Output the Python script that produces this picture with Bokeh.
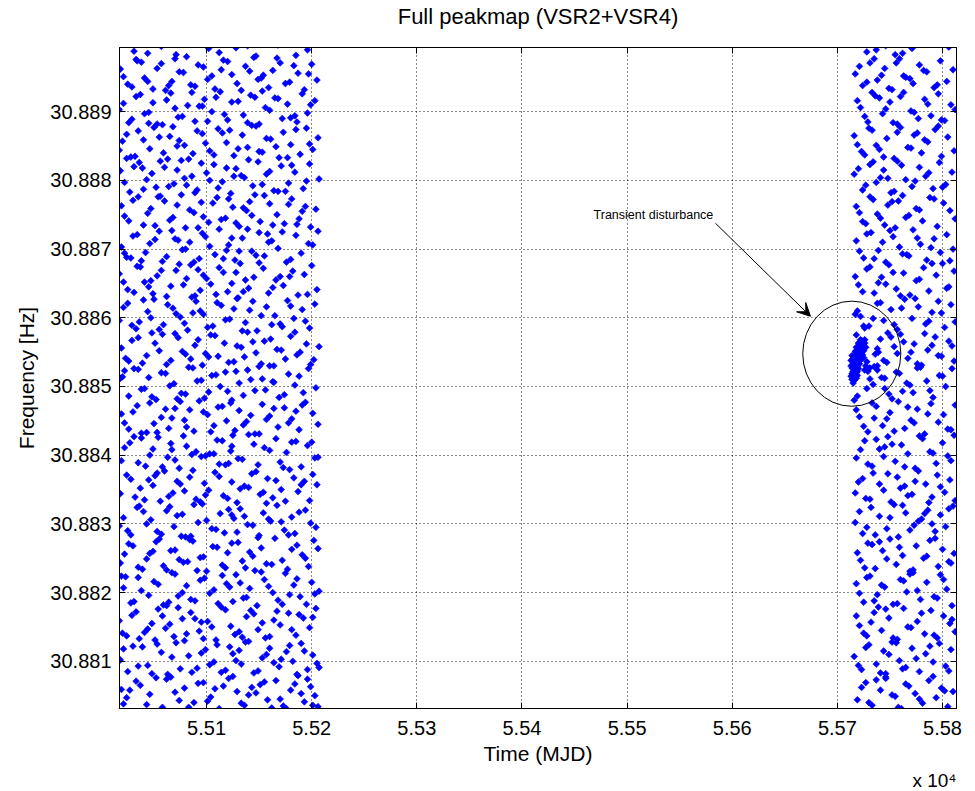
from bokeh.plotting import figure
from bokeh.models import (FixedTicker, LinearAxis, Label, Arrow, VeeHead,
                          Range1d, ColumnDataSource, Title)
from bokeh.embed import file_html
from bokeh.resources import INLINE

# ---------------- data ----------------
TITLE = "Full peakmap (VSR2+VSR4)"
X_LABEL = "Time (MJD)"
Y_LABEL = "Frequency [Hz]"
X_EXPONENT = "x 10\u2074"

X_TICKS = [55100, 55200, 55300, 55400, 55500, 55600, 55700, 55800]
X_TICK_LABELS = ["5.51", "5.52", "5.53", "5.54", "5.55", "5.56", "5.57", "5.58"]
Y_TICKS = [30.881, 30.882, 30.883, 30.884, 30.885, 30.886, 30.887, 30.888, 30.889]
Y_TICK_LABELS = ["30.881", "30.882", "30.883", "30.884", "30.885",
                 "30.886", "30.887", "30.888", "30.889"]

# VSR2 peaks (left block): time in MJD, one line per frequency strip
LEFT_T = [
    55021, 55033, 55046, 55058, 55066, 55079, 55088, 55097, 55104, 55112, 55121, 55129, 55136, 55143, 55147, 55151, 55158, 55166, 55173, 55180, 55187, 55193, 55199, 55203, 55206, 55027, 55052, 55074, 55116, 55162,
    55018, 55025, 55039, 55044, 55057, 55063, 55071, 55083, 55091, 55099, 55107, 55110, 55118, 55125, 55133, 55140, 55145, 55153, 55160, 55169, 55176, 55182, 55190, 55196, 55201, 55205, 55030, 55086, 55131, 55171,
    55020, 55029, 55036, 55048, 55054, 55061, 55069, 55077, 55085, 55093, 55101, 55109, 55114, 55123, 55127, 55138, 55142, 55149, 55156, 55164, 55170, 55178, 55185, 55192, 55198, 55204, 55041, 55095, 55134, 55188,
    55019, 55031, 55038, 55050, 55059, 55067, 55073, 55081, 55089, 55098, 55103, 55111, 55119, 55128, 55135, 55141, 55148, 55155, 55163, 55168, 55175, 55183, 55189, 55195, 55200, 55207, 55023, 55064, 55122, 55179,
    55022, 55026, 55035, 55043, 55055, 55062, 55070, 55078, 55087, 55094, 55100, 55106, 55115, 55120, 55130, 55137, 55144, 55152, 55157, 55165, 55172, 55177, 55186, 55191, 55197, 55202, 55049, 55082, 55146, 55206,
    55017, 55028, 55040, 55047, 55053, 55065, 55072, 55080, 55092, 55096, 55105, 55113, 55117, 55126, 55132, 55139, 55150, 55154, 55161, 55167, 55174, 55181, 55184, 55194, 55199, 55204, 55034, 55076, 55124, 55159,
    55024, 55032, 55037, 55045, 55056, 55060, 55068, 55075, 55084, 55090, 55102, 55108, 55116, 55124, 55129, 55136, 55143, 55151, 55158, 55163, 55171, 55179, 55187, 55193, 55198, 55205, 55051, 55099, 55140, 55183,
    55019, 55027, 55042, 55049, 55054, 55063, 55074, 55081, 55086, 55095, 55103, 55110, 55121, 55123, 55125, 55134, 55145, 55149, 55155, 55166, 55170, 55176, 55185, 55190, 55196, 55203, 55031, 55067, 55112, 55200,
    55022, 55030, 55038, 55046, 55057, 55064, 55070, 55079, 55088, 55093, 55101, 55107, 55115, 55127, 55131, 55138, 55146, 55153, 55160, 55168, 55174, 55181, 55188, 55194, 55201, 55206, 55043, 55084, 55157, 55191,
    55018, 55026, 55035, 55041, 55052, 55061, 55069, 55076, 55083, 55091, 55098, 55105, 55113, 55120, 55128, 55135, 55142, 55150, 55156, 55164, 55169, 55178, 55184, 55192, 55197, 55204, 55020, 55072, 55118, 55163,
    55023, 55029, 55039, 55048, 55055, 55066, 55073, 55080, 55089, 55096, 55104, 55111, 55117, 55126, 55133, 55139, 55147, 55152, 55161, 55167, 55175, 55180, 55186, 55195, 55199, 55207, 55058, 55102, 55144, 55189,
    55017, 55025, 55033, 55044, 55050, 55059, 55068, 55075, 55082, 55090, 55097, 55106, 55114, 55122, 55130, 55137, 55141, 55148, 55157, 55165, 55172, 55177, 55183, 55191, 55198, 55203, 55036, 55087, 55129, 55170,
    55021, 55031, 55037, 55045, 55053, 55062, 55071, 55078, 55085, 55094, 55100, 55109, 55116, 55124, 55132, 55140, 55145, 55154, 55159, 55166, 55173, 55182, 55187, 55193, 55200, 55205, 55047, 55092, 55135, 55179,
    55019, 55024, 55034, 55042, 55051, 55058, 55067, 55077, 55084, 55093, 55099, 55108, 55112, 55121, 55127, 55134, 55143, 55150, 55155, 55162, 55168, 55176, 55185, 55190, 55197, 55206, 55028, 55070, 55119, 55158,
    55022, 55030, 55040, 55047, 55056, 55065, 55072, 55080, 55088, 55095, 55102, 55110, 55118, 55125, 55131, 55138, 55146, 55151, 55160, 55167, 55174, 55181, 55188, 55194, 55199, 55204, 55054, 55097, 55141, 55186,
    55018, 55027, 55036, 55043, 55052, 55060, 55069, 55076, 55086, 55091, 55100, 55107, 55115, 55123, 55128, 55136, 55144, 55149, 55157, 55164, 55171, 55178, 55184, 55192, 55198, 55207, 55039, 55081, 55133, 55175,
    55020, 55028, 55035, 55046, 55055, 55063, 55068, 55079, 55087, 55096, 55103, 55111, 55119, 55126, 55134, 55139, 55147, 55153, 55161, 55169, 55173, 55180, 55189, 55195, 55201, 55206, 55024, 55074, 55122, 55166,
    55017, 55026, 55033, 55041, 55049, 55058, 55066, 55073, 55082, 55089, 55098, 55105, 55113, 55120, 55130, 55135, 55142, 55150, 55156, 55165, 55172, 55177, 55186, 55191, 55196, 55203, 55045, 55093, 55146, 55184,
    55021, 55029, 55038, 55044, 55053, 55061, 55070, 55078, 55085, 55092, 55101, 55108, 55116, 55124, 55129, 55137, 55145, 55152, 55159, 55163, 55170, 55179, 55187, 55193, 55200, 55205, 55034, 55064, 55114, 55154,
    55031, 55057, 55071, 55090, 55112, 55128, 55147, 55168,
    # second reading pass, same strips
    55024, 55037, 55043, 55062, 55070, 55083, 55092, 55101, 55108, 55125, 55133, 55140, 55155, 55170, 55176, 55184, 55190, 55196, 55201, 55019,
    55021, 55035, 55048, 55053, 55067, 55075, 55079, 55095, 55103, 55114, 55122, 55128, 55137, 55149, 55157, 55164, 55179, 55186, 55193, 55207,
    55017, 55024, 55033, 55044, 55051, 55058, 55065, 55073, 55081, 55089, 55097, 55105, 55118, 55131, 55145, 55153, 55160, 55167, 55181, 55201,
    55021, 55028, 55035, 55045, 55054, 55062, 55070, 55077, 55085, 55094, 55107, 55115, 55125, 55132, 55138, 55152, 55159, 55172, 55186, 55203,
    55018, 55030, 55039, 55046, 55052, 55059, 55066, 55074, 55084, 55091, 55097, 55110, 55118, 55124, 55134, 55141, 55149, 55162, 55181, 55194,
    55021, 55025, 55036, 55043, 55057, 55062, 55069, 55077, 55085, 55088, 55100, 55109, 55121, 55129, 55136, 55144, 55157, 55171, 55178, 55188,
    55018, 55028, 55041, 55049, 55053, 55064, 55072, 55079, 55087, 55094, 55098, 55112, 55120, 55132, 55147, 55154, 55166, 55175, 55190, 55201,
    55022, 55035, 55038, 55046, 55058, 55066, 55070, 55078, 55090, 55099, 55107, 55115, 55118, 55124, 55130, 55140, 55160, 55173, 55181, 55206,
    55019, 55026, 55034, 55050, 55053, 55061, 55067, 55075, 55081, 55097, 55104, 55111, 55119, 55123, 55135, 55142, 55150, 55164, 55178, 55185,
    55022, 55031, 55038, 55045, 55048, 55057, 55065, 55080, 55087, 55095, 55102, 55109, 55124, 55131, 55139, 55146, 55153, 55160, 55174, 55188,
    55019, 55026, 55035, 55043, 55051, 55062, 55070, 55077, 55085, 55092, 55099, 55108, 55121, 55129, 55136, 55155, 55164, 55171, 55184, 55202,
    55021, 55029, 55040, 55047, 55055, 55063, 55071, 55079, 55086, 55094, 55101, 55110, 55118, 55126, 55134, 55144, 55152, 55162, 55180, 55194,
    55017, 55025, 55034, 55041, 55049, 55057, 55066, 55074, 55081, 55089, 55097, 55104, 55112, 55120, 55128, 55137, 55150, 55163, 55170, 55196,
    55022, 55030, 55038, 55046, 55055, 55062, 55073, 55080, 55088, 55096, 55103, 55116, 55124, 55131, 55139, 55147, 55159, 55172, 55180, 55201,
    55019, 55026, 55035, 55044, 55051, 55060, 55068, 55076, 55084, 55092, 55106, 55114, 55121, 55128, 55135, 55143, 55155, 55163, 55178, 55191,
    55022, 55031, 55040, 55048, 55056, 55064, 55072, 55079, 55089, 55095, 55103, 55111, 55119, 55126, 55140, 55153, 55160, 55168, 55181, 55195,
    55017, 55024, 55032, 55040, 55050, 55059, 55065, 55072, 55083, 55091, 55099, 55107, 55115, 55130, 55143, 55150, 55157, 55177, 55185, 55198,
    55021, 55029, 55037, 55045, 55053, 55062, 55070, 55077, 55086, 55096, 55101, 55109, 55117, 55124, 55139, 55153, 55160, 55168, 55180, 55199,
    55018, 55025, 55033, 55041, 55049, 55057, 55067, 55074, 55081, 55089, 55097, 55105, 55120, 55133, 55141, 55149, 55167, 55175, 55183, 55197,
    55044, 55102, 55139, 55185, 55196,
]
# frequency in Hz
LEFT_F = [
    30.88038, 30.88071, 30.88052, 30.88033, 30.88077, 30.88061, 30.88040, 30.88069, 30.88048, 30.88031, 30.88075, 30.88056, 30.88036, 30.88062, 30.88054, 30.88066, 30.88044, 30.88072, 30.88035, 30.88058, 30.88079, 30.88041, 30.88063, 30.88050, 30.88034, 30.88058, 30.88076, 30.88043, 30.88064, 30.88032,
    30.88102, 30.88085, 30.88121, 30.88094, 30.88113, 30.88081, 30.88127, 30.88108, 30.88090, 30.88117, 30.88099, 30.88124, 30.88087, 30.88111, 30.88096, 30.88129, 30.88083, 30.88105, 30.88119, 30.88092, 30.88114, 30.88100, 30.88126, 30.88088, 30.88109, 30.88097, 30.88122, 30.88084, 30.88116, 30.88103,
    30.88141, 30.88167, 30.88133, 30.88155, 30.88176, 30.88148, 30.88136, 30.88162, 30.88171, 30.88144, 30.88158, 30.88131, 30.88179, 30.88151, 30.88139, 30.88165, 30.88174, 30.88146, 30.88134, 30.88160, 30.88153, 30.88170, 30.88138, 30.88163, 30.88149, 30.88177, 30.88142, 30.88157, 30.88135, 30.88168,
    30.88224, 30.88187, 30.88203, 30.88216, 30.88182, 30.88229, 30.88195, 30.88210, 30.88188, 30.88221, 30.88199, 30.88184, 30.88213, 30.88226, 30.88192, 30.88206, 30.88181, 30.88219, 30.88200, 30.88189, 30.88228, 30.88211, 30.88194, 30.88183, 30.88215, 30.88202, 30.88223, 30.88186, 30.88208, 30.88197,
    30.88256, 30.88271, 30.88237, 30.88249, 30.88278, 30.88233, 30.88262, 30.88244, 30.88275, 30.88251, 30.88231, 30.88267, 30.88240, 30.88258, 30.88273, 30.88236, 30.88253, 30.88265, 30.88242, 30.88279, 30.88247, 30.88234, 30.88269, 30.88255, 30.88238, 30.88276, 30.88260, 30.88245, 30.88232, 30.88264,
    30.88297, 30.88284, 30.88318, 30.88306, 30.88289, 30.88325, 30.88312, 30.88281, 30.88302, 30.88329, 30.88293, 30.88315, 30.88287, 30.88308, 30.88322, 30.88299, 30.88283, 30.88316, 30.88304, 30.88327, 30.88291, 30.88310, 30.88286, 30.88320, 30.88301, 30.88295, 30.88324, 30.88282, 30.88313, 30.88307,
    30.88371, 30.88339, 30.88352, 30.88364, 30.88333, 30.88377, 30.88345, 30.88358, 30.88368, 30.88336, 30.88349, 30.88375, 30.88341, 30.88361, 30.88331, 30.88355, 30.88373, 30.88343, 30.88366, 30.88338, 30.88350, 30.88379, 30.88347, 30.88362, 30.88334, 30.88357, 30.88370, 30.88342, 30.88353, 30.88367,
    30.88392, 30.88418, 30.88384, 30.88409, 30.88426, 30.88397, 30.88381, 30.88413, 30.88401, 30.88398, 30.88402, 30.88422, 30.88388, 30.88406, 30.88429, 30.88394, 30.88416, 30.88386, 30.88411, 30.88424, 30.88390, 30.88404, 30.88420, 30.88383, 30.88414, 30.88396, 30.88427, 30.88408, 30.88387, 30.88419,
    30.88447, 30.88463, 30.88432, 30.88476, 30.88455, 30.88439, 30.88468, 30.88451, 30.88435, 30.88479, 30.88459, 30.88443, 30.88471, 30.88436, 30.88465, 30.88449, 30.88431, 30.88474, 30.88457, 30.88441, 30.88469, 30.88453, 30.88437, 30.88477, 30.88461, 30.88445, 30.88433, 30.88466, 30.88452, 30.88473,
    30.88512, 30.88486, 30.88525, 30.88497, 30.88481, 30.88519, 30.88504, 30.88490, 30.88528, 30.88508, 30.88483, 30.88516, 30.88500, 30.88493, 30.88522, 30.88487, 30.88510, 30.88529, 30.88495, 30.88506, 30.88484, 30.88518, 30.88502, 30.88491, 30.88526, 30.88498, 30.88514, 30.88482, 30.88521, 30.88507,
    30.88541, 30.88567, 30.88534, 30.88578, 30.88552, 30.88538, 30.88571, 30.88547, 30.88560, 30.88531, 30.88575, 30.88544, 30.88563, 30.88536, 30.88557, 30.88579, 30.88549, 30.88533, 30.88569, 30.88554, 30.88540, 30.88573, 30.88546, 30.88562, 30.88532, 30.88558, 30.88576, 30.88543, 30.88565, 30.88550,
    30.88596, 30.88621, 30.88584, 30.88609, 30.88627, 30.88590, 30.88614, 30.88601, 30.88582, 30.88624, 30.88605, 30.88588, 30.88618, 30.88598, 30.88629, 30.88593, 30.88611, 30.88581, 30.88616, 30.88603, 30.88587, 30.88625, 30.88599, 30.88612, 30.88585, 30.88620, 30.88594, 30.88607, 30.88628, 30.88591,
    30.88652, 30.88637, 30.88674, 30.88645, 30.88661, 30.88631, 30.88669, 30.88648, 30.88677, 30.88640, 30.88657, 30.88634, 30.88666, 30.88650, 30.88679, 30.88643, 30.88659, 30.88672, 30.88636, 30.88655, 30.88647, 30.88668, 30.88633, 30.88663, 30.88676, 30.88641, 30.88654, 30.88670, 30.88638, 30.88660,
    30.88703, 30.88688, 30.88721, 30.88695, 30.88714, 30.88682, 30.88727, 30.88699, 30.88710, 30.88686, 30.88718, 30.88692, 30.88729, 30.88706, 30.88684, 30.88716, 30.88697, 30.88724, 30.88690, 30.88712, 30.88701, 30.88681, 30.88720, 30.88694, 30.88708, 30.88726, 30.88687, 30.88715, 30.88698, 30.88722,
    30.88748, 30.88771, 30.88735, 30.88759, 30.88777, 30.88742, 30.88764, 30.88731, 30.88753, 30.88768, 30.88739, 30.88775, 30.88745, 30.88761, 30.88733, 30.88756, 30.88779, 30.88740, 30.88766, 30.88750, 30.88737, 30.88773, 30.88744, 30.88762, 30.88732, 30.88758, 30.88776, 30.88747, 30.88769, 30.88736,
    30.88814, 30.88783, 30.88826, 30.88801, 30.88790, 30.88819, 30.88795, 30.88829, 30.88806, 30.88786, 30.88811, 30.88823, 30.88798, 30.88781, 30.88817, 30.88804, 30.88792, 30.88827, 30.88809, 30.88785, 30.88821, 30.88796, 30.88812, 30.88788, 30.88824, 30.88802, 30.88818, 30.88793, 30.88807, 30.88784,
    30.88857, 30.88834, 30.88872, 30.88846, 30.88863, 30.88831, 30.88878, 30.88851, 30.88839, 30.88868, 30.88843, 30.88875, 30.88855, 30.88836, 30.88866, 30.88848, 30.88879, 30.88841, 30.88860, 30.88833, 30.88870, 30.88852, 30.88838, 30.88876, 30.88845, 30.88862, 30.88832, 30.88858, 30.88873, 30.88849,
    30.88903, 30.88884, 30.88922, 30.88897, 30.88913, 30.88881, 30.88927, 30.88892, 30.88909, 30.88886, 30.88918, 30.88900, 30.88929, 30.88888, 30.88915, 30.88895, 30.88924, 30.88882, 30.88906, 30.88920, 30.88890, 30.88911, 30.88885, 30.88926, 30.88898, 30.88916, 30.88883, 30.88908, 30.88921, 30.88894,
    30.88951, 30.88936, 30.88972, 30.88944, 30.88963, 30.88931, 30.88977, 30.88957, 30.88939, 30.88968, 30.88947, 30.88933, 30.88975, 30.88954, 30.88941, 30.88966, 30.88979, 30.88949, 30.88935, 30.88960, 30.88971, 30.88943, 30.88956, 30.88932, 30.88969, 30.88946, 30.88974, 30.88938, 30.88961, 30.88953,
    30.88988, 30.88995, 30.88983, 30.88998, 30.88986, 30.88993, 30.88981, 30.88997,
    # second reading pass, same strips
    30.88047, 30.88065, 30.88037, 30.88074, 30.88055, 30.88033, 30.88068, 30.88042, 30.88060, 30.88078, 30.88039, 30.88051, 30.88070, 30.88045, 30.88031, 30.88067, 30.88053, 30.88074, 30.88036, 30.88059,
    30.88118, 30.88093, 30.88082, 30.88125, 30.88106, 30.88089, 30.88130, 30.88112, 30.88095, 30.88084, 30.88121, 30.88101, 30.88128, 30.88086, 30.88110, 30.88098, 30.88123, 30.88081, 30.88115, 30.88091,
    30.88159, 30.88137, 30.88172, 30.88147, 30.88131, 30.88166, 30.88154, 30.88178, 30.88140, 30.88162, 30.88133, 30.88150, 30.88175, 30.88143, 30.88169, 30.88156, 30.88136, 30.88173, 30.88146, 30.88164,
    30.88207, 30.88185, 30.88222, 30.88196, 30.88212, 30.88181, 30.88227, 30.88200, 30.88190, 30.88218, 30.88204, 30.88225, 30.88187, 30.88214, 30.88193, 30.88230, 30.88209, 30.88183, 30.88220, 30.88198,
    30.88243, 30.88268, 30.88234, 30.88257, 30.88274, 30.88239, 30.88261, 30.88248, 30.88277, 30.88232, 30.88252, 30.88266, 30.88236, 30.88272, 30.88246, 30.88259, 30.88280, 30.88241, 30.88263, 30.88250,
    30.88309, 30.88290, 30.88326, 30.88300, 30.88285, 30.88319, 30.88296, 30.88314, 30.88282, 30.88328, 30.88305, 30.88292, 30.88321, 30.88288, 30.88311, 30.88298, 30.88330, 30.88303, 30.88284, 30.88317,
    30.88344, 30.88365, 30.88335, 30.88356, 30.88374, 30.88340, 30.88362, 30.88348, 30.88378, 30.88332, 30.88359, 30.88369, 30.88337, 30.88351, 30.88376, 30.88346, 30.88363, 30.88333, 30.88357, 30.88372,
    30.88411, 30.88389, 30.88425, 30.88400, 30.88383, 30.88417, 30.88393, 30.88428, 30.88405, 30.88399, 30.88402, 30.88421, 30.88386, 30.88413, 30.88395, 30.88430, 30.88407, 30.88382, 30.88419, 30.88397,
    30.88460, 30.88438, 30.88472, 30.88446, 30.88433, 30.88467, 30.88454, 30.88478, 30.88441, 30.88463, 30.88434, 30.88470, 30.88450, 30.88476, 30.88444, 30.88458, 30.88431, 30.88468, 30.88447, 30.88464,
    30.88523, 30.88526, 30.88496, 30.88513, 30.88485, 30.88520, 30.88501, 30.88489, 30.88527, 30.88509, 30.88492, 30.88517, 30.88480, 30.88505, 30.88524, 30.88494, 30.88511, 30.88530, 30.88488, 30.88515,
    30.88556, 30.88537, 30.88571, 30.88545, 30.88563, 30.88532, 30.88577, 30.88551, 30.88540, 30.88568, 30.88548, 30.88574, 30.88535, 30.88559, 30.88543, 30.88566, 30.88530, 30.88553, 30.88579, 30.88539,
    30.88615, 30.88589, 30.88626, 30.88600, 30.88583, 30.88619, 30.88606, 30.88592, 30.88630, 30.88610, 30.88586, 30.88622, 30.88597, 30.88613, 30.88581, 30.88624, 30.88603, 30.88590, 30.88617, 30.88595,
    30.88664, 30.88641, 30.88675, 30.88652, 30.88635, 30.88669, 30.88646, 30.88678, 30.88657, 30.88632, 30.88662, 30.88649, 30.88673, 30.88638, 30.88666, 30.88655, 30.88680, 30.88644, 30.88660, 30.88634,
    30.88694, 30.88719, 30.88683, 30.88708, 30.88726, 30.88689, 30.88713, 30.88700, 30.88681, 30.88723, 30.88704, 30.88686, 30.88716, 30.88697, 30.88729, 30.88691, 30.88710, 30.88725, 30.88685, 30.88706,
    30.88763, 30.88741, 30.88776, 30.88752, 30.88734, 30.88770, 30.88746, 30.88779, 30.88757, 30.88731, 30.88767, 30.88743, 30.88773, 30.88738, 30.88760, 30.88749, 30.88778, 30.88735, 30.88765, 30.88755,
    30.88797, 30.88820, 30.88787, 30.88810, 30.88828, 30.88791, 30.88815, 30.88803, 30.88782, 30.88825, 30.88800, 30.88789, 30.88818, 30.88806, 30.88830, 30.88794, 30.88813, 30.88784, 30.88822, 30.88799,
    30.88844, 30.88867, 30.88835, 30.88859, 30.88877, 30.88840, 30.88864, 30.88850, 30.88831, 30.88872, 30.88854, 30.88837, 30.88869, 30.88846, 30.88880, 30.88842, 30.88861, 30.88833, 30.88874, 30.88853,
    30.88912, 30.88889, 30.88925, 30.88899, 30.88882, 30.88917, 30.88905, 30.88893, 30.88928, 30.88908, 30.88886, 30.88921, 30.88896, 30.88914, 30.88884, 30.88930, 30.88902, 30.88919, 30.88891, 30.88910,
    30.88962, 30.88940, 30.88976, 30.88949, 30.88933, 30.88970, 30.88944, 30.88958, 30.88980, 30.88937, 30.88965, 30.88952, 30.88973, 30.88931, 30.88959, 30.88947, 30.88978, 30.88941, 30.88967, 30.88955,
    30.88985, 30.88992, 30.88996, 30.88982, 30.88990,
]

# VSR4 peaks (right block)
RIGHT_T = [
    55719, 55727, 55733, 55741, 55746, 55755, 55761, 55768, 55774, 55781, 55787, 55794, 55799, 55805, 55810, 55746,
    55716, 55723, 55730, 55737, 55744, 55746, 55752, 55759, 55765, 55771, 55778, 55784, 55791, 55797, 55803, 55808,
    55721, 55728, 55735, 55742, 55749, 55757, 55763, 55770, 55776, 55783, 55789, 55795, 55801, 55807, 55812, 55739,
    55718, 55725, 55731, 55738, 55745, 55753, 55760, 55766, 55772, 55779, 55785, 55792, 55798, 55804, 55809, 55763,
    55722, 55729, 55736, 55743, 55750, 55756, 55762, 55769, 55775, 55782, 55788, 55796, 55800, 55806, 55811, 55733,
    55717, 55724, 55732, 55740, 55747, 55754, 55758, 55765, 55773, 55780, 55786, 55793, 55798, 55803, 55810, 55777,
    55720, 55727, 55734, 55744, 55751, 55757, 55764, 55771, 55777, 55784, 55790, 55795, 55802, 55807, 55812, 55760,
    55718, 55726, 55733, 55740, 55748, 55755, 55761, 55767, 55774, 55781, 55788, 55794, 55800, 55805, 55811, 55745,
    55721, 55729, 55737, 55743, 55750, 55758, 55764, 55770, 55776, 55783, 55789, 55796, 55801, 55808, 55812, 55735,
    55719, 55731, 55738, 55745, 55752, 55759, 55766, 55772, 55779, 55785, 55791, 55797, 55803, 55809, 55762, 55734,
    55736, 55741, 55747, 55754, 55760, 55767, 55773, 55780, 55786, 55793, 55799, 55806, 55811, 55748, 55770, 55790,
    55717, 55722, 55730, 55738, 55744, 55751, 55757, 55764, 55771, 55777, 55784, 55790, 55796, 55802, 55808, 55812,
    55720, 55728, 55735, 55742, 55749, 55756, 55763, 55769, 55775, 55782, 55787, 55794, 55800, 55806, 55811, 55739,
    55718, 55725, 55732, 55739, 55746, 55753, 55759, 55766, 55772, 55779, 55785, 55792, 55798, 55804, 55810, 55768,
    55721, 55727, 55734, 55741, 55748, 55755, 55762, 55768, 55775, 55781, 55788, 55795, 55801, 55807, 55812, 55758,
    55716, 55724, 55731, 55737, 55744, 55751, 55757, 55765, 55771, 55778, 55784, 55791, 55797, 55803, 55809, 55748,
    55719, 55726, 55733, 55740, 55747, 55754, 55760, 55767, 55773, 55780, 55786, 55793, 55799, 55805, 55811, 55776,
    55722, 55729, 55736, 55743, 55750, 55757, 55763, 55770, 55777, 55783, 55789, 55796, 55802, 55808, 55812, 55740,
    55717, 55724, 55731, 55738, 55745, 55752, 55759, 55765, 55772, 55778, 55785, 55792, 55798, 55804, 55810, 55763,
    55728, 55746, 55755, 55771, 55790,
    # second reading pass
    55723, 55730, 55737, 55752, 55758, 55765, 55778, 55791, 55802,
    55720, 55727, 55741, 55749, 55756, 55762, 55775, 55788, 55806,
    55718, 55725, 55732, 55746, 55753, 55767, 55780, 55792, 55809,
    55721, 55728, 55735, 55742, 55757, 55769, 55776, 55795, 55801,
    55719, 55726, 55740, 55747, 55759, 55772, 55785, 55793, 55808,
    55721, 55728, 55736, 55750, 55762, 55769, 55783, 55790, 55806,
    55717, 55724, 55731, 55740, 55748, 55767, 55774, 55787, 55798,
    55722, 55729, 55737, 55744, 55752, 55764, 55778, 55791, 55808,
    55718, 55725, 55733, 55747, 55754, 55767, 55773, 55786, 55805,
    55716, 55728, 55742, 55749, 55756, 55769, 55776, 55788, 55800,
    55738, 55744, 55751, 55757, 55763, 55776, 55783, 55796, 55809,
    55719, 55726, 55734, 55741, 55754, 55761, 55774, 55787, 55799,
    55717, 55724, 55731, 55746, 55753, 55760, 55778, 55790, 55804,
    55721, 55728, 55735, 55743, 55750, 55762, 55776, 55789, 55807,
    55718, 55724, 55731, 55738, 55745, 55752, 55765, 55778, 55792,
    55720, 55727, 55734, 55741, 55754, 55761, 55774, 55787, 55800,
    55716, 55723, 55730, 55737, 55744, 55757, 55770, 55783, 55796,
    55719, 55726, 55733, 55746, 55753, 55760, 55773, 55786, 55799,
    55721, 55728, 55735, 55742, 55749, 55756, 55769, 55782, 55795,
    55737, 55762, 55806,
]
RIGHT_F = [
    30.88044, 30.88069, 30.88036, 30.88058, 30.88077, 30.88049, 30.88031, 30.88064, 30.88053, 30.88039, 30.88072, 30.88047, 30.88061, 30.88034, 30.88056, 30.88075,
    30.88107, 30.88088, 30.88124, 30.88096, 30.88115, 30.88082, 30.88128, 30.88101, 30.88091, 30.88119, 30.88085, 30.88111, 30.88099, 30.88126, 30.88093, 30.88117,
    30.88152, 30.88137, 30.88171, 30.88145, 30.88163, 30.88132, 30.88177, 30.88149, 30.88158, 30.88140, 30.88174, 30.88134, 30.88166, 30.88155, 30.88143, 30.88179,
    30.88213, 30.88186, 30.88224, 30.88197, 30.88208, 30.88183, 30.88219, 30.88201, 30.88229, 30.88190, 30.88215, 30.88194, 30.88226, 30.88205, 30.88181, 30.88217,
    30.88247, 30.88272, 30.88235, 30.88261, 30.88278, 30.88241, 30.88254, 30.88231, 30.88268, 30.88250, 30.88276, 30.88238, 30.88263, 30.88245, 30.88257, 30.88270,
    30.88302, 30.88286, 30.88324, 30.88311, 30.88293, 30.88328, 30.88281, 30.88316, 30.88298, 30.88307, 30.88320, 30.88289, 30.88313, 30.88296, 30.88326, 30.88304,
    30.88361, 30.88337, 30.88374, 30.88349, 30.88332, 30.88368, 30.88355, 30.88343, 30.88377, 30.88358, 30.88339, 30.88371, 30.88346, 30.88364, 30.88334, 30.88352,
    30.88396, 30.88421, 30.88384, 30.88409, 30.88427, 30.88391, 30.88415, 30.88402, 30.88381, 30.88424, 30.88405, 30.88388, 30.88418, 30.88399, 30.88429, 30.88412,
    30.88456, 30.88434, 30.88471, 30.88443, 30.88462, 30.88478, 30.88439, 30.88451, 30.88467, 30.88431, 30.88475, 30.88448, 30.88459, 30.88437, 30.88473, 30.88454,
    30.88486, 30.88511, 30.88524, 30.88497, 30.88482, 30.88519, 30.88505, 30.88491, 30.88528, 30.88508, 30.88484, 30.88516, 30.88500, 30.88526, 30.88493, 30.88503,
    30.88547, 30.88569, 30.88535, 30.88558, 30.88576, 30.88541, 30.88562, 30.88531, 30.88553, 30.88572, 30.88544, 30.88566, 30.88537, 30.88578, 30.88550, 30.88560,
    30.88605, 30.88602, 30.88588, 30.88621, 30.88596, 30.88612, 30.88583, 30.88627, 30.88599, 30.88616, 30.88591, 30.88608, 30.88624, 30.88586, 30.88619, 30.88594,
    30.88648, 30.88671, 30.88636, 30.88659, 30.88677, 30.88642, 30.88665, 30.88633, 30.88654, 30.88673, 30.88639, 30.88662, 30.88679, 30.88645, 30.88668, 30.88651,
    30.88712, 30.88687, 30.88724, 30.88698, 30.88681, 30.88718, 30.88703, 30.88692, 30.88728, 30.88707, 30.88684, 30.88715, 30.88695, 30.88721, 30.88700, 30.88690,
    30.88753, 30.88737, 30.88772, 30.88745, 30.88764, 30.88731, 30.88778, 30.88749, 30.88759, 30.88741, 30.88775, 30.88733, 30.88767, 30.88756, 30.88744, 30.88770,
    30.88809, 30.88786, 30.88823, 30.88797, 30.88815, 30.88782, 30.88828, 30.88801, 30.88791, 30.88819, 30.88806, 30.88788, 30.88826, 30.88794, 30.88812, 30.88803,
    30.88852, 30.88837, 30.88873, 30.88845, 30.88861, 30.88832, 30.88877, 30.88848, 30.88866, 30.88840, 30.88856, 30.88874, 30.88835, 30.88863, 30.88843, 30.88869,
    30.88906, 30.88885, 30.88923, 30.88897, 30.88914, 30.88882, 30.88928, 30.88901, 30.88890, 30.88918, 30.88894, 30.88926, 30.88887, 30.88910, 30.88903, 30.88920,
    30.88955, 30.88938, 30.88971, 30.88946, 30.88963, 30.88932, 30.88977, 30.88950, 30.88941, 30.88968, 30.88958, 30.88935, 30.88974, 30.88944, 30.88961, 30.88952,
    30.88987, 30.88996, 30.88983, 30.88992, 30.88999,
    # second reading pass
    30.88062, 30.88040, 30.88073, 30.88051, 30.88033, 30.88067, 30.88045, 30.88078, 30.88057,
    30.88094, 30.88120, 30.88083, 30.88110, 30.88127, 30.88089, 30.88104, 30.88122, 30.88086,
    30.88166, 30.88141, 30.88157, 30.88176, 30.88134, 30.88150, 30.88170, 30.88138, 30.88161,
    30.88199, 30.88222, 30.88188, 30.88211, 30.88184, 30.88227, 30.88203, 30.88192, 30.88219,
    30.88258, 30.88236, 30.88274, 30.88249, 30.88266, 30.88233, 30.88253, 30.88279, 30.88243,
    30.88318, 30.88295, 30.88284, 30.88309, 30.88327, 30.88291, 30.88315, 30.88300, 30.88322,
    30.88345, 30.88366, 30.88336, 30.88358, 30.88373, 30.88341, 30.88362, 30.88331, 30.88354,
    30.88408, 30.88387, 30.88423, 30.88398, 30.88416, 30.88383, 30.88428, 30.88403, 30.88392,
    30.88466, 30.88442, 30.88476, 30.88453, 30.88435, 30.88470, 30.88447, 30.88460, 30.88438,
    30.88480, 30.88497, 30.88513, 30.88489, 30.88521, 30.88502, 30.88527, 30.88494, 30.88515,
    30.88555, 30.88538, 30.88572, 30.88548, 30.88565, 30.88533, 30.88577, 30.88545, 30.88559,
    30.88610, 30.88585, 30.88599, 30.88622, 30.88590, 30.88614, 30.88628, 30.88595, 30.88607,
    30.88660, 30.88638, 30.88674, 30.88649, 30.88666, 30.88632, 30.88656, 30.88679, 30.88643,
    30.88697, 30.88722, 30.88686, 30.88710, 30.88727, 30.88693, 30.88716, 30.88702, 30.88683,
    30.88762, 30.88740, 30.88776, 30.88751, 30.88735, 30.88769, 30.88746, 30.88757, 30.88773,
    30.88817, 30.88793, 30.88827, 30.88804, 30.88784, 30.88822, 30.88799, 30.88811, 30.88790,
    30.88865, 30.88842, 30.88876, 30.88851, 30.88834, 30.88870, 30.88847, 30.88859, 30.88879,
    30.88916, 30.88893, 30.88928, 30.88904, 30.88884, 30.88922, 30.88899, 30.88911, 30.88888,
    30.88966, 30.88943, 30.88977, 30.88953, 30.88934, 30.88971, 30.88948, 30.88960, 30.88939,
    30.88990, 30.88985, 30.88994,
]

# the transient disturbance (dense burst inside the circle)
BURST_T = [55714, 55715, 55716, 55717, 55715, 55716, 55718, 55717, 55719, 55716,
           55718, 55720, 55719, 55721, 55717, 55720, 55722, 55719, 55721, 55723,
           55720, 55722, 55724, 55721, 55723, 55725, 55724, 55726, 55722, 55715,
           55718, 55718, 55714, 55731, 55735, 55738, 55729, 55745, 55739, 55718,
           55725,
           55713, 55716, 55719, 55714, 55719, 55715, 55720, 55715, 55721, 55718,
           55723, 55717, 55724, 55718, 55725, 55720, 55727, 55723, 55726, 55717,
           55721, 55727, 55728, 55726, 55713, 55713, 55714, 55725]
BURST_F = [30.88510, 30.88514, 30.88509, 30.88518, 30.88522, 30.88527, 30.88524, 30.88531, 30.88529, 30.88535,
           30.88538, 30.88534, 30.88542, 30.88540, 30.88544, 30.88547, 30.88545, 30.88550, 30.88552, 30.88549,
           30.88556, 30.88558, 30.88554, 30.88562, 30.88561, 30.88559, 30.88565, 30.88563, 30.88568, 30.88505,
           30.88512, 30.88520, 30.88519, 30.88527, 30.88529, 30.88530, 30.88522, 30.88512, 30.88550, 30.88575,
           30.88588,
           30.88515, 30.88520, 30.88516, 30.88527, 30.88522, 30.88532, 30.88526, 30.88540, 30.88533, 30.88545,
           30.88540, 30.88551, 30.88546, 30.88557, 30.88552, 30.88563, 30.88557, 30.88567, 30.88568, 30.88525,
           30.88538, 30.88530, 30.88536, 30.88524, 30.88530, 30.88538, 30.88545, 30.88542]

ANNOTATION = "Transient disturbance"

# ---------------- figure ----------------
FONT = "Liberation Sans"
BLUE = "#0000ff"

p = figure(width=975, height=791,
           x_range=Range1d(55017.2, 55813.3),
           y_range=Range1d(30.880313, 30.889934),
           output_backend="svg", toolbar_location=None,
           min_border_left=119, min_border_right=19,
           min_border_top=46, min_border_bottom=83,
           background_fill_color="white", border_fill_color="white",
           outline_line_color="black", outline_line_width=1)
p.title.text = ""


def style_axis(ax, ticks, labels=None, show_labels=True):
    ax.ticker = FixedTicker(ticks=ticks)
    if labels is not None:
        ax.major_label_overrides = {t: l for t, l in zip(ticks, labels)}
    ax.axis_line_color = "black"
    ax.major_tick_line_color = "black"
    ax.major_tick_in = 6
    ax.major_tick_out = 0
    ax.minor_tick_line_color = None
    ax.major_label_text_font = FONT
    if show_labels:
        ax.major_label_text_color = "black"
        ax.major_label_text_font_size = "20px"
    else:
        ax.major_label_text_color = None
        ax.major_label_text_font_size = "1px"
        ax.major_label_standoff = 0


xa = p.xaxis[0]
style_axis(xa, X_TICKS, X_TICK_LABELS)
xa.major_label_standoff = 12
xa.axis_label = X_LABEL
xa.axis_label_text_font = FONT
xa.axis_label_text_font_size = "21px"
xa.axis_label_text_font_style = "normal"
xa.axis_label_text_color = "black"
xa.axis_label_standoff = 4

ya = p.yaxis[0]
style_axis(ya, Y_TICKS, Y_TICK_LABELS)
ya.major_label_standoff = 8
ya.axis_label = Y_LABEL
ya.axis_label_text_font = FONT
ya.axis_label_text_font_size = "21px"
ya.axis_label_text_font_style = "normal"
ya.axis_label_text_color = "black"
ya.axis_label_standoff = 9

# top frame ticks; the chart title sits on this edge
top_ax = LinearAxis()
style_axis(top_ax, X_TICKS, show_labels=False)
top_ax.axis_label = TITLE
top_ax.axis_label_text_font = FONT
top_ax.axis_label_text_font_size = "22px"
top_ax.axis_label_text_font_style = "normal"
top_ax.axis_label_text_color = "black"
top_ax.axis_label_standoff = 19
p.add_layout(top_ax, "above")

right_ax = LinearAxis()
style_axis(right_ax, Y_TICKS, show_labels=False)
p.add_layout(right_ax, "right")

# "x 10^4" multiplier under the right end of the time axis
p.add_layout(Title(text=X_EXPONENT, align="right", text_font=FONT,
                   text_font_size="19px", text_font_style="normal",
                   text_color="black", standoff=0), "below")

for g, ticks in ((p.xgrid[0], X_TICKS), (p.ygrid[0], Y_TICKS)):
    g.ticker = FixedTicker(ticks=ticks)
    g.grid_line_color = "black"
    g.grid_line_dash = "1 3"
    g.grid_line_width = 1
    g.grid_line_alpha = 0.9


def source(ts, fs):
    n = min(len(ts), len(fs))
    return ColumnDataSource(dict(t=ts[:n], f=fs[:n]))


for src in (source(LEFT_T, LEFT_F), source(RIGHT_T, RIGHT_F),
            source(BURST_T, BURST_F)):
    p.scatter("t", "f", source=src, marker="square", angle=0.785398,
              size=4.8, fill_color=BLUE, line_color=BLUE, line_width=0.6)

# circle around the disturbance
p.ellipse(x=[55713.7], y=[30.885477], width=93.3, height=0.001530,
          fill_color=None, line_color="black", line_width=1)

p.add_layout(Arrow(end=VeeHead(size=13, fill_color="black", line_color="black"),
                   x_start=55584.0, y_start=30.887377,
                   x_end=55674.4, y_end=30.886022,
                   line_color="black", line_width=1))
p.add_layout(Label(x=55582.0, y=30.887489, text=ANNOTATION,
                   text_align="right", text_baseline="middle",
                   text_font=FONT, text_font_size="12.5px", text_color="black"))

open("out.html", "w").write(file_html(p, INLINE))
